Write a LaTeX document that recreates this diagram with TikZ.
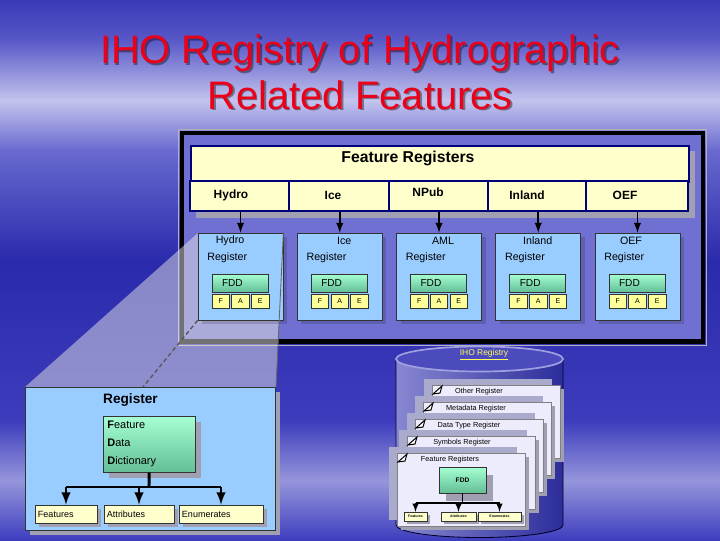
\documentclass[tikz,border=0pt]{standalone}
\usepackage{fontspec}
\setmainfont{Liberation Sans}
\usetikzlibrary{positioning,shadows}

\definecolor{navy}{RGB}{0,0,120}
\definecolor{paleyel}{RGB}{255,255,204}
\definecolor{faeyel}{RGB}{255,255,153}
\definecolor{regblue}{RGB}{153,204,255}
\definecolor{mintlt}{RGB}{165,255,210}
\definecolor{mintdk}{RGB}{100,190,150}
\definecolor{panelblue}{RGB}{112,112,210}
\definecolor{shadegray}{RGB}{160,160,178}
\definecolor{pagefill}{RGB}{236,236,252}
\definecolor{ghostgray}{RGB}{170,170,204}
\definecolor{titlered}{RGB}{235,0,25}
\definecolor{regyellow}{RGB}{255,255,90}
\definecolor{cylleft}{RGB}{135,135,210}
\definecolor{cylmid}{RGB}{70,70,180}
\definecolor{cylright}{RGB}{45,45,155}
\definecolor{cyltop}{RGB}{75,75,190}
\definecolor{cylrim}{RGB}{160,160,225}
\definecolor{bgA}{RGB}{58,58,182}
\definecolor{bgB}{RGB}{88,88,200}
\definecolor{bgC}{RGB}{196,196,238}
\definecolor{bgD}{RGB}{105,105,208}
\definecolor{bgE}{RGB}{42,42,172}
\definecolor{bgF}{RGB}{60,60,188}
\definecolor{bgG}{RGB}{150,150,220}
\definecolor{bgH}{RGB}{62,62,190}

\newcommand{\pxu}{0.025cm}
\newcommand{\fsz}[1]{\fontsize{#1}{#1}\selectfont}

\tikzset{
  titletext/.style={align=center, inner sep=0pt, font=\fontsize{28.3pt}{32.6pt}\selectfont},
  hdrbox/.style={draw=navy, line width=1.4pt, fill=paleyel, inner sep=0pt},
  rowtext/.style={inner sep=0pt, font=\fsz{8.5pt}\bfseries},
  regbox/.style={draw=black!80, line width=0.5pt, fill=regblue, minimum width=85*\pxu, minimum height=87*\pxu,
    drop shadow={fill=black, opacity=0.15, shadow xshift=0.1cm, shadow yshift=-0.1cm}},
  regtext/.style={inner sep=0pt, font=\fsz{7.6pt}},
  fddbox/.style={draw=black!80, line width=0.4pt, top color=mintlt, bottom color=mintdk, minimum height=18*\pxu,
    inner xsep=0.25cm, inner ysep=0pt, text width=0.9cm, align=left, font=\fsz{7.2pt}},
  faebox/.style={draw=black!80, line width=0.4pt, fill=faeyel, minimum width=17.5*\pxu, minimum height=14*\pxu,
    inner sep=0pt, font=\fsz{5pt}},
  link/.style={>=latex, ->, line width=1.4pt},
  leafbox/.style={draw=black!80, line width=0.5pt, fill=paleyel, minimum height=18*\pxu, inner xsep=0.075cm,
    inner ysep=0pt, align=left, font=\fsz{6.4pt},
    drop shadow={fill=shadegray, opacity=1, shadow xshift=0.1cm, shadow yshift=-0.1cm}},
  page/.style={draw=black!50, line width=0.4pt, fill=pagefill, minimum width=128*\pxu, minimum height=73*\pxu,
    drop shadow={fill=shadegray, opacity=1, shadow xshift=0.1cm, shadow yshift=-0.1cm}},
  pagetitle/.style={inner sep=0pt, font=\fsz{5.2pt}},
  tinybox/.style={draw=black!80, line width=0.3pt, fill=paleyel, minimum height=9*\pxu, inner sep=0pt,
    font=\fsz{2.5pt}\bfseries, drop shadow={fill=shadegray, opacity=1, shadow xshift=0.075cm, shadow yshift=-0.075cm}}
}

\begin{document}
\begin{tikzpicture}[x=\pxu, y=-\pxu]
\useasboundingbox (0,0) rectangle (720,540);

% slide background
\shade[top color=bgA, bottom color=bgB] (0,0) rectangle (720,41);
\shade[top color=bgB, bottom color=bgC] (0,40) rectangle (720,101);
\shade[top color=bgC, bottom color=bgD] (0,100) rectangle (720,151);
\shade[top color=bgD, bottom color=bgE] (0,150) rectangle (720,261);
\shade[top color=bgE, bottom color=bgF] (0,260) rectangle (720,421);
\shade[top color=bgF, bottom color=bgG] (0,420) rectangle (720,481);
\shade[top color=bgG, bottom color=bgH] (0,480) rectangle (720,540);

\node[titletext, black, opacity=0.4] (titleshade) at (361.8,73.8) {IHO Registry of Hydrographic\\Related Features};
\node[titletext, titlered] (title) at (360,72) {IHO Registry of Hydrographic\\Related Features};

% upper panel
\node[draw=black, line width=3.5pt, fill=panelblue, minimum width=521*\pxu, minimum height=208.5*\pxu,
  anchor=north west] (panel) at (179.5,130.5) {};
\draw[gray!60, line width=0.3pt] ([shift={(-0.03cm,0.03cm)}]panel.north west) rectangle ([shift={(0.03cm,-0.03cm)}]panel.south east);

% zoom wedge
\fill[white!80!gray, opacity=0.5] (198,233) -- (283,233) -- (276,387) -- (25,387) -- cycle;

\fill[shadegray] (196,151) rectangle (695,218);
\node[hdrbox, minimum width=498*\pxu, minimum height=36*\pxu, anchor=north west] (hdr) at (190,145) {};
\node[inner sep=0pt, font=\fsz{11.2pt}\bfseries] (hdrtext) at (408,158) {Feature Registers};

\foreach \i/\rl/\rr/\rlab/\lx/\ly/\rname/\nx in {
  1/190/289/Hydro/231/195/Hydro/32,
  2/289/389/Ice/333/195/Ice/47,
  3/389/488/NPub/428/192/AML/46.5,
  4/488/586/Inland/527/195/Inland/42,
  5/586/688/OEF/625/195/OEF/36}{
  \pgfmathsetmacro\bx{198+99.25*(\i-1)}
  \node[hdrbox, minimum width=(\rr-\rl)*\pxu, minimum height=30*\pxu] (row\i) at ({(\rl+\rr)/2},196) {};
  \node[rowtext] (rowtxt\i) at (\lx,\ly) {\rlab};
  \node[regbox] (reg\i) at (\bx+42.5,276.5) {};
  \node[regtext] (regname\i) at (\bx+\nx,241) {\rname};
  \node[regtext, anchor=west] (regword\i) at (\bx+9,258) {Register};
  \node[fddbox] (fdd\i) at (\bx+42,283) {FDD};
  \node[faebox] (f\i) at (\bx+22.75,301) {F};
  \node[faebox] (a\i) at (\bx+42.5,301) {A};
  \node[faebox] (e\i) at (\bx+62.25,301) {E};
  \draw[link] (reg\i.north |- row\i.south) -- (reg\i.north);
}

% enlarged register
\node[draw=black!80, line width=0.5pt, fill=regblue, minimum width=250*\pxu, minimum height=143*\pxu, anchor=north west,
  drop shadow={fill=shadegray, opacity=1, shadow xshift=0.125cm, shadow yshift=-0.125cm}] (bigreg) at (25,387) {};
\coordinate (zoomfoot) at (143,387);
\coordinate (wedgefoot) at (276,387);
\draw[black!60, line width=0.6pt] (reg1.north east) -- (wedgefoot);
\draw[gray!70!black, line width=1pt, densely dashed] (reg1.south west) -- (zoomfoot);

\node[inner sep=0pt, font=\fsz{9.7pt}\bfseries] (bigtitle) at (130.5,400) {Register};
\node[draw=black!80, line width=0.5pt, top color=mintlt, bottom color=mintdk, minimum height=56*\pxu, anchor=north west,
  inner xsep=0.1cm, inner ysep=0pt, text width=2.1cm, align=left, font=\fontsize{7.8pt}{12.8pt}\selectfont,
  drop shadow={fill=shadegray, opacity=1, shadow xshift=0.15cm, shadow yshift=-0.15cm}] (bigfdd) at (103,416)
  {\textbf{F}eature\\\textbf{D}ata\\\textbf{D}ictionary};
\coordinate (bigbar) at (149,487);
\node[leafbox, text width=1.4cm] (feat) at (66,514) {Features};
\node[leafbox, text width=1.6cm] (attr) at (139,514) {Attributes};
\node[leafbox, text width=1.95cm] (enum) at (221,514) {Enumerates};
\draw[line width=2.1pt] (bigfdd) -- (bigbar);
\draw[line width=2.1pt] (feat.north |- bigbar) -- (enum.north |- bigbar);
\draw[link, line width=2pt] (feat.north |- bigbar) -- (feat);
\draw[link, line width=2pt] (attr.north |- bigbar) -- (attr);
\draw[link, line width=2pt] (enum.north |- bigbar) -- (enum);

% registry cylinder
\shade[left color=cylleft, middle color=cylmid, right color=cylright]
  (396,359) rectangle (563,525) (479.5,525) ellipse [x radius=2.0875cm, y radius=0.3125cm];
\draw[black!70!navy, line width=0.6pt] (396,359) -- (396,525)
  arc[start angle=180, end angle=360, x radius=2.0875cm, y radius=0.3125cm] -- (563,359);
\draw[fill=cyltop, draw=cylrim, line width=1.2pt] (479.5,359) ellipse [x radius=2.0875cm, y radius=0.3125cm];
\node[inner sep=0pt, text=regyellow, font=\fsz{6pt}] (registry) at (484,355) {\underline{IHO Registry}};

\foreach \j/\pxl/\pyt/\ptitle/\ptx in {
  1/432/385/Other Register/479,
  2/423/402/Metadata Register/476,
  3/415/419/Data Type Register/469,
  4/407/436/Symbols Register/462,
  5/397/453/Feature Registers/450}{
  \fill[ghostgray] (\pxl-8,\pyt-6) rectangle ++(128,73);
  \node[page, anchor=north west] (page\j) at (\pxl,\pyt) {};
  \draw[line width=0.7pt, fill=white] (\pxl+1,\pyt+9) -- (\pxl+10,\pyt+1) -- (\pxl+8,\pyt+8) -- cycle;
  \node[pagetitle] (ptitle\j) at (\ptx,\pyt+7) {\ptitle};
}

% front page content
\node[draw=black!80, line width=0.4pt, top color=mintlt, bottom color=mintdk, minimum width=47*\pxu, minimum height=26*\pxu,
  inner sep=0pt, font=\fsz{4.7pt}\bfseries,
  drop shadow={fill=shadegray, opacity=1, shadow xshift=0.175cm, shadow yshift=-0.2cm}] (frontfdd) at (462.5,480) {FDD};
\coordinate (frontbar) at (462.5,503);
\node[tinybox, minimum width=23*\pxu] (ffeat) at (415.5,516.5) {Features};
\node[tinybox, minimum width=35*\pxu] (fattr) at (458.5,516.5) {Attributes};
\node[tinybox, minimum width=43*\pxu] (fenum) at (499.5,516.5) {Enumerates};
\draw[line width=1.2pt] (frontfdd) -- (frontbar);
\draw[line width=1.2pt] (ffeat.north |- frontbar) -- (fenum.north |- frontbar);
\draw[link, line width=1pt] (ffeat.north |- frontbar) -- (ffeat);
\draw[link, line width=1pt] (fattr.north |- frontbar) -- (fattr);
\draw[link, line width=1pt] (fenum.north |- frontbar) -- (fenum);
\end{tikzpicture}
\end{document}
